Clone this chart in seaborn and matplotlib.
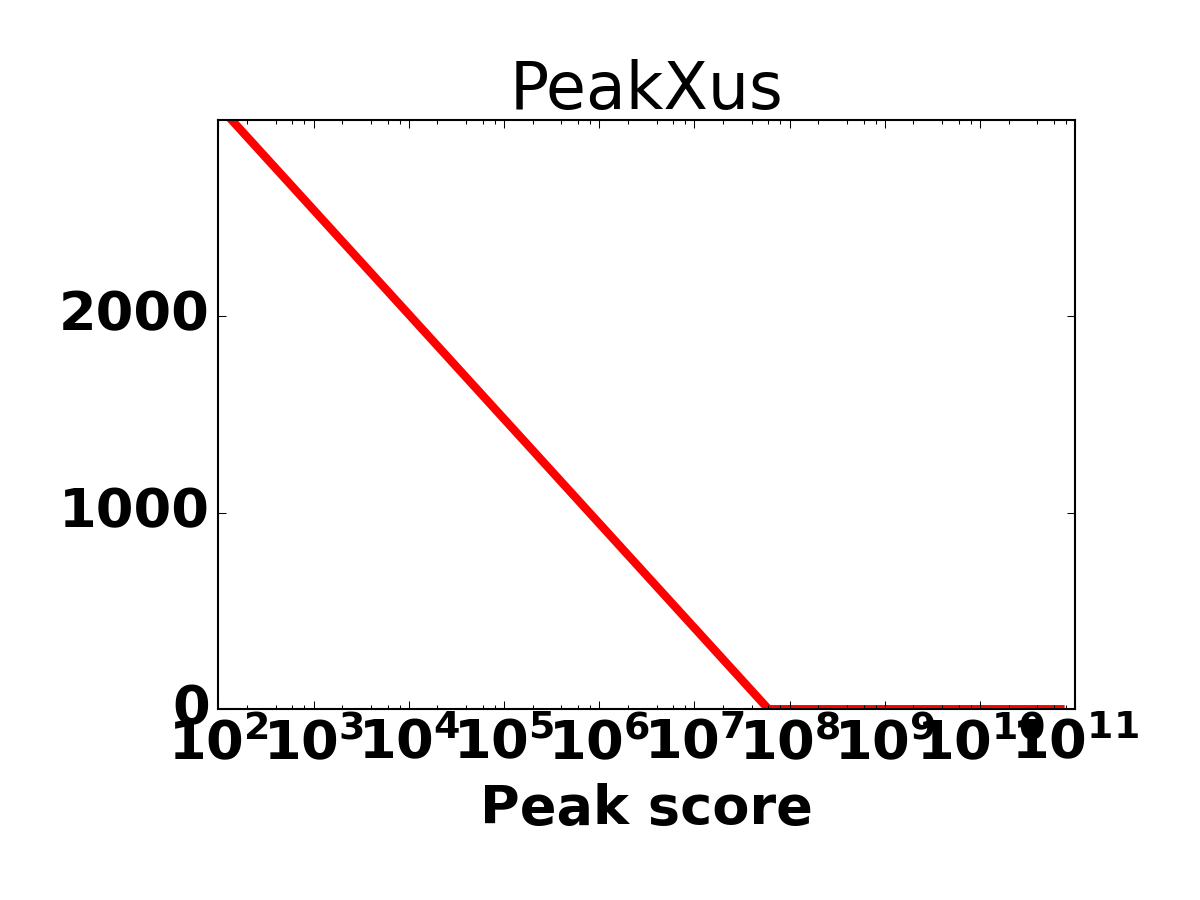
import numpy as np
import pandas as pd
import seaborn as sns
import matplotlib
matplotlib.use('Agg')
import matplotlib.pyplot as plt
from matplotlib.ticker import LogLocator

# data
peak_score = [1.37e2, 6.0e7, 7.0e10]
n_peaks = [2997, 0, 0]
y_ticks = [0, 1000, 2000]

plt.style.use('classic')
plt.rcParams['font.family'] = ['DejaVu Sans']
plt.rcParams['font.size'] = 26
plt.rcParams['font.weight'] = 'bold'

df = pd.DataFrame({'score': peak_score, 'peaks': n_peaks})

fig, ax = plt.subplots(figsize=(8, 6), dpi=150)
fig.patch.set_facecolor('white')
sns.lineplot(data=df, x='score', y='peaks', ax=ax, color='red', lw=4,
             estimator=None, sort=False)
ax.set_xscale('log')
ax.set_xlim(1e2, 1e11)
ax.xaxis.set_minor_locator(LogLocator(base=10, subs=(2, 4, 6, 8), numticks=50))
ax.set_ylim(0, max(n_peaks))
ax.set_yticks(y_ticks)
ax.set_xlabel('Peak score', fontweight='bold', labelpad=6)
ax.set_ylabel('')
ax.set_title('PeakXus', fontweight='normal', fontsize=31.2)
fig.subplots_adjust(left=0.182, right=0.896, top=0.867, bottom=0.212)
fig.savefig('out.png', dpi=150, facecolor='white')
